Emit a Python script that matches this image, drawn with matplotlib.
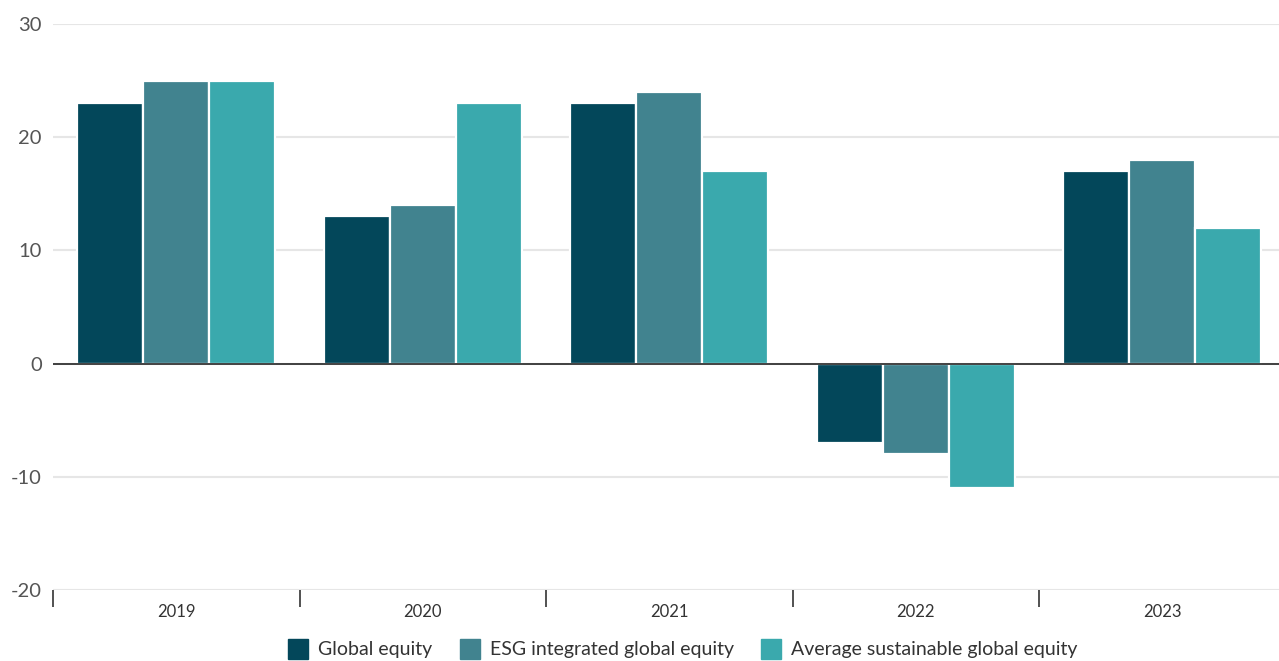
import matplotlib
matplotlib.use("Agg")
import matplotlib.pyplot as plt
from matplotlib.lines import Line2D
import numpy as np

# Данные (годовая доходность, %)
years = ["2019", "2020", "2021", "2022", "2023"]
global_equity = [23, 13, 23, -7, 17]
esg_integrated = [25, 14, 24, -8, 18]
avg_sustainable = [25, 23, 17, -11, 12]

series_names = ["Global equity", "ESG integrated global equity",
                "Average sustainable global equity"]
colors = ["#03475A", "#41838F", "#3AA9AD"]

plt.rcParams['font.family'] = ['Lato', 'DejaVu Sans']
plt.rcParams['axes.unicode_minus'] = False

fig = plt.figure(figsize=(12.79, 6.61), dpi=100)
ax = fig.add_axes([53 / 1279, 1 - 590 / 661, (1285.5 - 53) / 1279, (590 - 24) / 661])

x = np.arange(len(years))
width = 0.268
for i, (vals, col, name) in enumerate(zip([global_equity, esg_integrated, avg_sustainable],
                                          colors, series_names)):
    ax.bar(x + (i - 1) * width, vals, width, color=col, edgecolor='white',
           linewidth=1.6, label=name, zorder=3)

ax.set_xlim(-0.5, len(years) - 0.5)
ax.set_ylim(-20, 30)
ax.set_yticks([-20, -10, 0, 10, 20, 30])
ax.grid(axis='y', color='#e6e6e6', linewidth=1.5, zorder=0)
ax.axhline(0, color='#333333', linewidth=1.3, zorder=4)

for s in ax.spines.values():
    s.set_visible(False)

ax.tick_params(axis='y', length=0, labelsize=14.5, labelcolor='#555555', pad=8)
ax.set_xticks(x)
ax.set_xticklabels(years)
ax.tick_params(axis='x', length=0, labelsize=12, labelcolor='#333333', pad=10)
# Разделители категорий
ax.set_xticks(np.arange(len(years) + 1) - 0.5, minor=True)
ax.tick_params(axis='x', which='minor', length=12, width=1.2, color='#333333', direction='out')

handles = [Line2D([0], [0], marker='s', linestyle='none', markersize=14,
                  markerfacecolor=c, markeredgecolor=c) for c in colors]
fig.legend(handles, series_names, loc='center', bbox_to_anchor=(683 / 1279, 1 - 650 / 661),
           ncol=3, frameon=False, fontsize=14, labelcolor='#333333',
           handletextpad=0.55, columnspacing=1.4, handlelength=1.0)

fig.savefig("out.png", dpi=100)
